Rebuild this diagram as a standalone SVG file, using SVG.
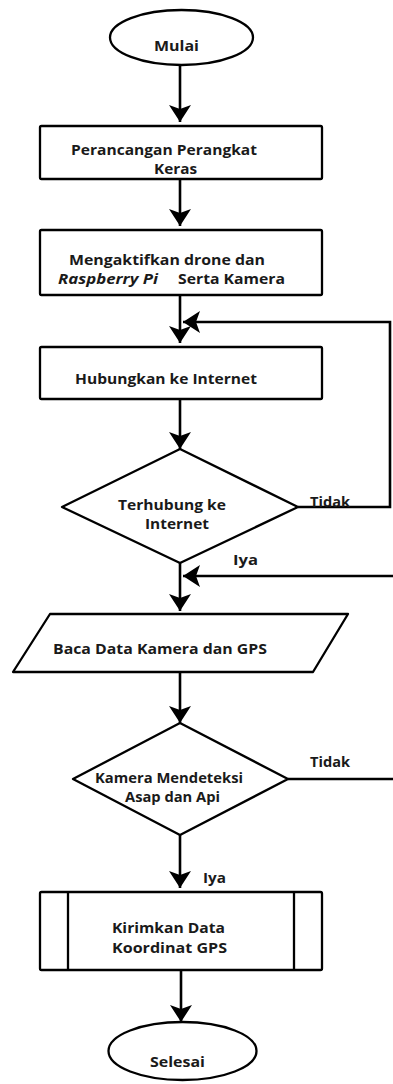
<svg xmlns="http://www.w3.org/2000/svg" width="393" height="1084" viewBox="0 0 393 1084">
<style>
.shape{fill:#fff;stroke:#000;stroke-width:2.3;stroke-linejoin:round}
.conn{fill:none;stroke:#000;stroke-width:2.6}
.t{font-family:"Open Sans","Liberation Sans",sans-serif;font-weight:bold;font-size:15px;fill:#1a1a1a}
.it{font-style:italic}
</style>
<defs>
<marker id="arr" markerUnits="userSpaceOnUse" markerWidth="20" markerHeight="24" viewBox="-18 -12 20 24" refX="0" refY="0" orient="auto">
<path d="M0,0 L-17,-11 L-13,0 L-17,11 Z" fill="#000"/>
</marker>
</defs>
<rect width="393" height="1084" fill="#fff"/>
<g id="connectors">
<path class="conn" d="M180,65 V122" marker-end="url(#arr)"/>
<path class="conn" d="M180,179 V226" marker-end="url(#arr)"/>
<path class="conn" d="M180,295 V343" marker-end="url(#arr)"/>
<path class="conn" d="M298,507 H390 V322 H183" marker-end="url(#arr)"/>
<path class="conn" d="M180,399 V449" marker-end="url(#arr)"/>
<path class="conn" d="M180,563 V611" marker-end="url(#arr)"/>
<path class="conn" d="M288,779 H396 V576 H183" marker-end="url(#arr)"/>
<path class="conn" d="M180,672 V723" marker-end="url(#arr)"/>
<path class="conn" d="M180,835 V888" marker-end="url(#arr)"/>
<path class="conn" d="M181,970 V1022" marker-end="url(#arr)"/>
<text class="t" x="310" y="507" textLength="40" lengthAdjust="spacingAndGlyphs">Tidak</text>
<text class="t" x="233" y="565" textLength="25" lengthAdjust="spacingAndGlyphs">Iya</text>
<text class="t" x="310" y="767" textLength="40" lengthAdjust="spacingAndGlyphs">Tidak</text>
<text class="t" x="203" y="883" textLength="23" lengthAdjust="spacingAndGlyphs">Iya</text>
</g>
<g id="mulai">
<ellipse class="shape" cx="181.5" cy="37.5" rx="71.5" ry="27.5"/>
<text class="t" x="154" y="51" textLength="45" lengthAdjust="spacingAndGlyphs">Mulai</text>
</g>
<g id="perancangan">
<rect class="shape" x="40" y="126" width="282" height="53" rx="1.5"/>
<text class="t" x="71" y="155" textLength="186" lengthAdjust="spacingAndGlyphs">Perancangan Perangkat</text>
<text class="t" x="154" y="174" textLength="43" lengthAdjust="spacingAndGlyphs">Keras</text>
</g>
<g id="mengaktifkan">
<rect class="shape" x="40" y="230" width="282" height="65" rx="1.5"/>
<text class="t" x="69" y="265" textLength="196" lengthAdjust="spacingAndGlyphs">Mengaktifkan drone dan</text>
<text class="t it" x="58" y="284" textLength="100" lengthAdjust="spacingAndGlyphs">Raspberry Pi</text>
<text class="t" x="178" y="284" textLength="107" lengthAdjust="spacingAndGlyphs">Serta Kamera</text>
</g>
<g id="hubungkan">
<rect class="shape" x="40" y="347" width="282" height="52" rx="1.5"/>
<text class="t" x="75" y="384" textLength="182" lengthAdjust="spacingAndGlyphs">Hubungkan ke Internet</text>
</g>
<g id="terhubung">
<polygon class="shape" points="180,449 298,507 180,563 62,507"/>
<text class="t" x="118" y="510" textLength="108" lengthAdjust="spacingAndGlyphs">Terhubung ke</text>
<text class="t" x="145" y="529" textLength="64" lengthAdjust="spacingAndGlyphs">Internet</text>
</g>
<g id="baca">
<polygon class="shape" points="50,614 348,614 313,672 13,672"/>
<text class="t" x="53" y="654" textLength="214" lengthAdjust="spacingAndGlyphs">Baca Data Kamera dan GPS</text>
</g>
<g id="deteksi">
<polygon class="shape" points="180,723 288,779 180,835 73,779"/>
<text class="t" x="95" y="783" textLength="148" lengthAdjust="spacingAndGlyphs">Kamera Mendeteksi</text>
<text class="t" x="125" y="802" textLength="95" lengthAdjust="spacingAndGlyphs">Asap dan Api</text>
</g>
<g id="kirim">
<rect class="shape" x="40" y="892" width="282" height="78" rx="1.5"/>
<line class="shape" x1="68" y1="892" x2="68" y2="970"/>
<line class="shape" x1="294" y1="892" x2="294" y2="970"/>
<text class="t" x="112" y="933" textLength="113" lengthAdjust="spacingAndGlyphs">Kirimkan Data</text>
<text class="t" x="112" y="953" textLength="115" lengthAdjust="spacingAndGlyphs">Koordinat GPS</text>
</g>
<g id="selesai">
<ellipse class="shape" cx="182.5" cy="1051" rx="74" ry="29"/>
<text class="t" x="150" y="1067" textLength="55" lengthAdjust="spacingAndGlyphs">Selesai</text>
</g>
</svg>
